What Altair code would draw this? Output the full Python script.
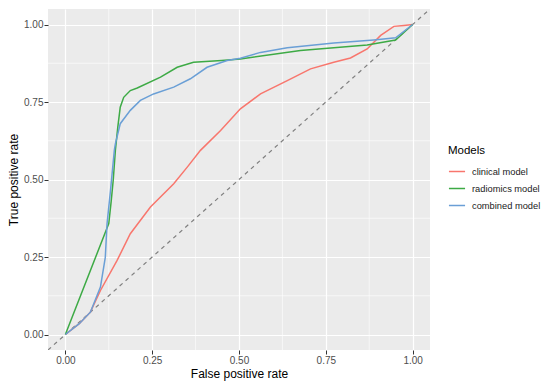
import altair as alt
import pandas as pd

models = ["clinical model", "radiomics model", "combined model"]
colors = ["#F8766D", "#3DAA45", "#6A9FD6"]

clin_fpr = [0, 0.04, 0.072, 0.101, 0.149, 0.187, 0.245, 0.312, 0.351, 0.389, 0.447, 0.504, 0.562, 0.639, 0.706, 0.773, 0.821, 0.869, 0.908, 0.946, 0.975, 1.0]
clin_tpr = [0, 0.035, 0.072, 0.142, 0.239, 0.325, 0.411, 0.486, 0.54, 0.594, 0.658, 0.728, 0.776, 0.819, 0.857, 0.878, 0.892, 0.921, 0.965, 0.994, 0.997, 1.0]

rad_fpr = [0, 0.125, 0.132, 0.138, 0.144, 0.151, 0.158, 0.168, 0.187, 0.207, 0.274, 0.322, 0.369, 0.45, 0.504, 0.677, 0.869, 0.951, 1.0]
rad_tpr = [0, 0.358, 0.43, 0.50, 0.594, 0.669, 0.733, 0.765, 0.787, 0.795, 0.83, 0.862, 0.878, 0.884, 0.889, 0.916, 0.934, 0.95, 1.0]

comb_fpr = [0, 0.04, 0.072, 0.101, 0.115, 0.12, 0.13, 0.141, 0.144, 0.158, 0.187, 0.216, 0.254, 0.312, 0.36, 0.408, 0.466, 0.504, 0.562, 0.639, 0.773, 0.888, 0.951, 1.0]
comb_tpr = [0, 0.035, 0.072, 0.153, 0.249, 0.357, 0.465, 0.594, 0.615, 0.68, 0.723, 0.755, 0.776, 0.798, 0.825, 0.862, 0.884, 0.891, 0.91, 0.925, 0.94, 0.95, 0.957, 1.0]

major_breaks = [0, 0.25, 0.5, 0.75, 1.0]
minor_breaks = [0.125, 0.375, 0.625, 0.875]
ref_line = [-0.05, 1.05]

rows = []
for m, f, t in zip(models, [clin_fpr, rad_fpr, comb_fpr], [clin_tpr, rad_tpr, comb_tpr]):
    for i, (a, b) in enumerate(zip(f, t)):
        rows.append({"model": m, "fpr": a, "tpr": b, "idx": i})
df = pd.DataFrame(rows)
ref_df = pd.DataFrame({"fpr": ref_line, "tpr": ref_line})
minor_x = pd.DataFrame({"fpr": minor_breaks})
minor_y = pd.DataFrame({"tpr": minor_breaks})

FONT = "Liberation Sans"
xs = alt.Scale(domain=[-0.05, 1.05], nice=False, zero=False)
ys = alt.Scale(domain=[-0.05, 1.05], nice=False, zero=False)

major_axis = dict(values=major_breaks, format=".2f", grid=True, gridColor="white", gridWidth=1.2,
                  domain=False, tickColor="#333333", tickSize=4, tickWidth=1,
                  labelColor="#4D4D4D", labelFontSize=10, labelFont=FONT, labelPadding=1,
                  titleFont=FONT, titleFontSize=12, titleFontWeight="normal", titleColor="black",
                  titlePadding=3)

x_enc = alt.X("fpr:Q", scale=xs, axis=alt.Axis(orient="bottom", title="False positive rate", **major_axis))
y_enc = alt.Y("tpr:Q", scale=ys, axis=alt.Axis(orient="left", title="True positive rate", **major_axis))

grid_x = alt.Chart(minor_x).mark_rule(color="white", strokeWidth=0.6).encode(x=x_enc)
grid_y = alt.Chart(minor_y).mark_rule(color="white", strokeWidth=0.6).encode(y=y_enc)

ref_layer = alt.Chart(ref_df).mark_line(strokeDash=[4, 4], color="#7F7F7F", strokeWidth=1.2, clip=True).encode(
    x=x_enc, y=y_enc,
)

curves = alt.Chart(df).mark_line(strokeWidth=1.5, clip=True).encode(
    x=x_enc,
    y=y_enc,
    color=alt.Color("model:N", scale=alt.Scale(domain=models, range=colors),
                    legend=alt.Legend(title="Models", orient="none", legendX=400, legendY=136,
                                      symbolType="stroke", symbolSize=260, symbolStrokeWidth=1.5,
                                      titleFont=FONT, titleFontSize=11.5, titleFontWeight="normal",
                                      titleColor="black", labelFont=FONT, labelFontSize=9.3,
                                      labelColor="#1A1A1A", labelOffset=6, rowPadding=2,
                                      titlePadding=6, padding=0)),
    order="idx:Q",
)

chart = alt.layer(grid_x, grid_y, ref_layer, curves).properties(
    width=382, height=341,
    autosize=alt.AutoSizeParams(type="none"),
    padding={"left": 40, "top": 1, "right": 112, "bottom": 36},
).configure_view(fill="#EBEBEB", stroke=None)

chart.save("out.html", embed_options={"renderer": "svg", "actions": False})
